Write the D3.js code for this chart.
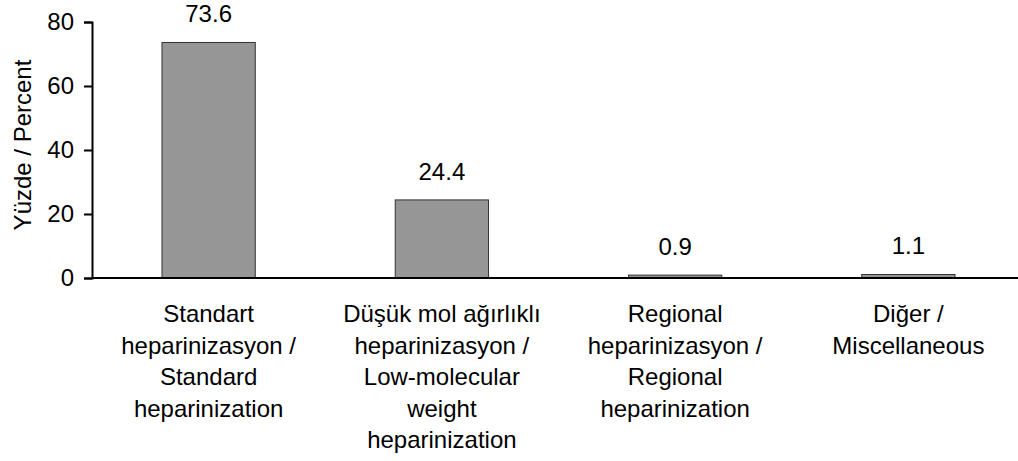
<!DOCTYPE html>
<html>
<head>
<meta charset="utf-8">
<script src="https://cdn.jsdelivr.net/npm/d3@7"></script>
<style>
  body { margin: 0; background: #fff; }
  svg text { font-family: "Liberation Sans", Arial, sans-serif; fill: #000; }
</style>
</head>
<body>
<div id="chart"></div>
<script>
// Data
const categories = [
  ["Standart", "heparinizasyon /", "Standard", "heparinization"],
  ["Düşük mol ağırlıklı", "heparinizasyon /", "Low-molecular", "weight", "heparinization"],
  ["Regional", "heparinizasyon /", "Regional", "heparinization"],
  ["Diğer /", "Miscellaneous"]
];
const values = [73.6, 24.4, 0.9, 1.1];
const valueLabels = ["73.6", "24.4", "0.9", "1.1"];
const yTicks = [0, 20, 40, 60, 80];
const yTitle = "Yüzde / Percent";

const width = 1018, height = 461;
const fontSize = 24;

const svg = d3.select("#chart")
  .append("svg")
    .attr("width", width)
    .attr("height", height);

// scales
const x = d3.scaleBand()
  .domain(d3.range(values.length))
  .range([92, 1025])
  .paddingInner(0.6)
  .paddingOuter(0.3);

const y = d3.scaleLinear()
  .domain([0, 80])
  .range([278, 22]);

// bars
svg.selectAll("rect.bar")
  .data(values)
  .join("rect")
    .attr("class", "bar")
    .attr("x", (d, i) => x(i))
    .attr("y", d => y(d))
    .attr("width", x.bandwidth())
    .attr("height", d => y(0) - y(d))
    .attr("fill", "#969696")
    .attr("stroke", "#333")
    .attr("stroke-width", 1);

// value labels
svg.selectAll("text.val")
  .data(values)
  .join("text")
    .attr("class", "val")
    .attr("x", (d, i) => x(i) + x.bandwidth() / 2)
    .attr("y", d => y(d) - 20)
    .attr("text-anchor", "middle")
    .style("font-size", fontSize + "px")
    .text((d, i) => valueLabels[i]);

// y axis
const yAxis = svg.append("g")
  .attr("transform", "translate(92,0)")
  .call(d3.axisLeft(y).tickValues(yTicks).tickSize(8).tickPadding(10));
yAxis.select(".domain").attr("stroke", "#000").attr("stroke-width", 2);
yAxis.selectAll(".tick line").attr("stroke", "#000").attr("stroke-width", 2);
yAxis.selectAll(".tick text")
  .style("font-size", fontSize + "px")
  .style("font-family", "'Liberation Sans', Arial, sans-serif")
  .attr("fill", "#000");

// x axis line
svg.append("line")
  .attr("x1", 92).attr("x2", width)
  .attr("y1", y(0)).attr("y2", y(0))
  .attr("stroke", "#000")
  .attr("stroke-width", 2);

// category labels
const lineH = 31.6;
categories.forEach((lines, i) => {
  const t = svg.append("text")
    .attr("text-anchor", "middle")
    .style("font-size", fontSize + "px");
  lines.forEach((ln, j) => {
    t.append("tspan")
      .attr("x", x(i) + x.bandwidth() / 2)
      .attr("y", 322 + j * lineH)
      .text(ln);
  });
});

// y title
svg.append("text")
  .attr("transform", "translate(31,145) rotate(-90)")
  .attr("text-anchor", "middle")
  .style("font-size", fontSize + "px")
  .text(yTitle);
</script>
</body>
</html>
